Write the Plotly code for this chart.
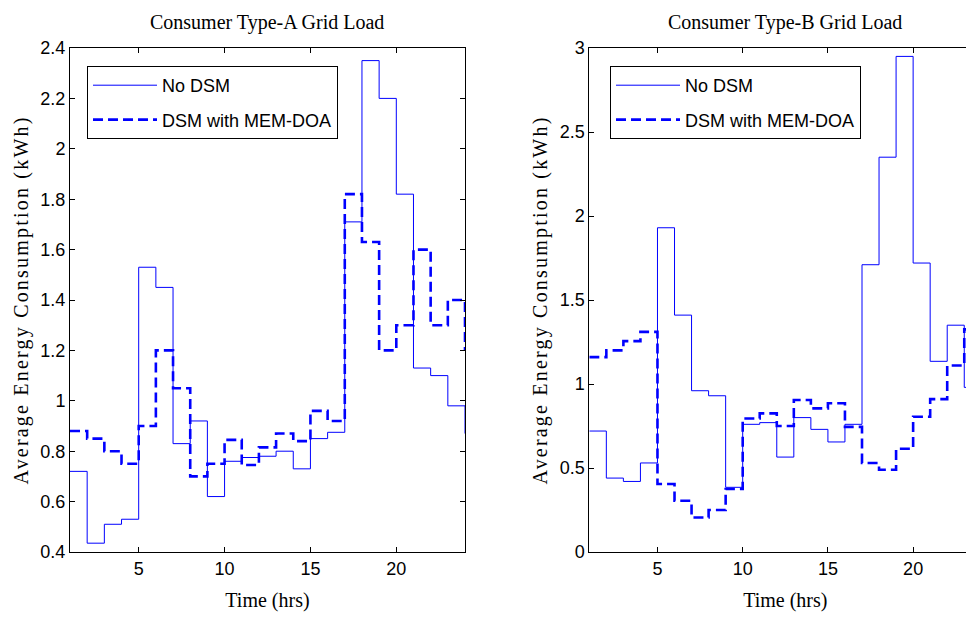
import plotly.graph_objects as go

# ---------------- data ----------------
hours = list(range(1, 25))

a_no_dsm = [0.72, 0.435, 0.51, 0.53, 1.53, 1.45, 0.83, 0.92, 0.62, 0.76, 0.775, 0.78,
            0.80, 0.73, 0.85, 0.875, 1.71, 2.35, 2.20, 1.82, 1.13, 1.10, 0.98, 0.87]
a_dsm = [0.88, 0.85, 0.80, 0.75, 0.90, 1.20, 1.05, 0.70, 0.75, 0.845, 0.745, 0.815,
         0.87, 0.84, 0.96, 0.92, 1.82, 1.63, 1.20, 1.30, 1.60, 1.30, 1.40, 1.20]

b_no_dsm = [0.72, 0.44, 0.42, 0.53, 1.93, 1.41, 0.96, 0.93, 0.385, 0.76, 0.77, 0.565,
            0.80, 0.73, 0.655, 0.76, 1.71, 2.35, 2.95, 1.72, 1.135, 1.35, 0.98, 0.98]
b_dsm = [1.16, 1.20, 1.255, 1.31, 0.405, 0.305, 0.205, 0.25, 0.375, 0.795, 0.825, 0.75,
         0.905, 0.855, 0.885, 0.745, 0.53, 0.49, 0.615, 0.805, 0.91, 1.11, 1.325, 1.325]

series_names = ["No DSM", "DSM with MEM-DOA"]
titles = ["Consumer Type-A Grid Load", "Consumer Type-B Grid Load"]
x_label = "Time (hrs)"
y_label = "Average Energy Consumption (kWh)"

# ---------------- figure ----------------
W, H = 974, 617
OFF = 8  # page body margin offset
BLUE = "#0000ff"
SANS = "Liberation Sans, Arial, sans-serif"
SERIF = "Liberation Serif, Times New Roman, serif"

fig = go.Figure()

for xa, ya, leg, (solid, dashed), grp in [
    ("x", "y", "legend", (a_no_dsm, a_dsm), "a"),
    ("x2", "y2", "legend2", (b_no_dsm, b_dsm), "b"),
]:
    fig.add_trace(go.Scatter(
        x=hours, y=solid, mode="lines", line=dict(shape="hv", color=BLUE, width=1),
        name=series_names[0], xaxis=xa, yaxis=ya, legend=leg, legendgroup=grp + "1"))
    fig.add_trace(go.Scatter(
        x=hours, y=dashed, mode="lines",
        line=dict(shape="hv", color=BLUE, width=2.6, dash="10px,5px"),
        name=series_names[1], xaxis=xa, yaxis=ya, legend=leg, legendgroup=grp + "2"))

axis_common = dict(
    showgrid=False, zeroline=False, showline=True, linecolor="black", linewidth=1,
    ticks="inside", ticklen=5, tickcolor="black", tickwidth=1, automargin=False,
    tickfont=dict(family=SANS, size=18, color="black"), mirror="ticks",
)

def px_x(p):
    return (p - OFF) / W

def px_y(p):
    return 1 - (p - OFF) / H

xtitle = dict(text=x_label, font=dict(family=SERIF, size=20, color="black"), standoff=15)
ytitle = dict(text=y_label, font=dict(family=SERIF, size=20, color="black"), standoff=6)

legend_common = dict(xanchor="left", yanchor="top", bordercolor="black", borderwidth=1,
                     bgcolor="white", font=dict(family=SANS, size=18, color="black"),
                     tracegroupgap=8, itemwidth=64)

fig.update_layout(
    template="none",
    width=W, height=H, margin=dict(l=0, r=0, t=0, b=0, autoexpand=False),
    paper_bgcolor="white", plot_bgcolor="white", showlegend=True,
    xaxis=dict(domain=[px_x(70), px_x(465)], range=[1, 24], tickvals=[5, 10, 15, 20],
               anchor="y", title=xtitle, **axis_common),
    yaxis=dict(domain=[px_y(552), px_y(48)], range=[0.4, 2.4], dtick=0.2, tick0=0.4,
               anchor="x", title=ytitle, **axis_common),
    xaxis2=dict(domain=[px_x(589.3), px_x(981.3)], range=[1, 24], tickvals=[5, 10, 15, 20],
                anchor="y2", title=xtitle, **axis_common),
    yaxis2=dict(domain=[px_y(552), px_y(48)], range=[0, 3], dtick=0.5, tick0=0,
                anchor="x2", title=ytitle, **axis_common),
    legend=dict(x=px_x(87), y=px_y(66), **legend_common),
    legend2=dict(x=px_x(610), y=px_y(66), **legend_common),
    annotations=[
        dict(text=titles[0], x=px_x(267), y=px_y(22), xref="paper", yref="paper",
             xanchor="center", yanchor="middle", showarrow=False,
             font=dict(family=SERIF, size=20, color="black")),
        dict(text=titles[1], x=px_x(785), y=px_y(22), xref="paper", yref="paper",
             xanchor="center", yanchor="middle", showarrow=False,
             font=dict(family=SERIF, size=20, color="black")),
    ],
)

letter_spacing_js = """
var gd = document.getElementById('{plot_id}');
function spaceYTitles() {
  gd.querySelectorAll('text.ytitle, text.y2title').forEach(function (t) {
    t.style.letterSpacing = '2.2px';
  });
}
spaceYTitles();
gd.on && gd.on('plotly_afterplot', spaceYTitles);
"""

fig.write_html("out.html", post_script=letter_spacing_js)
